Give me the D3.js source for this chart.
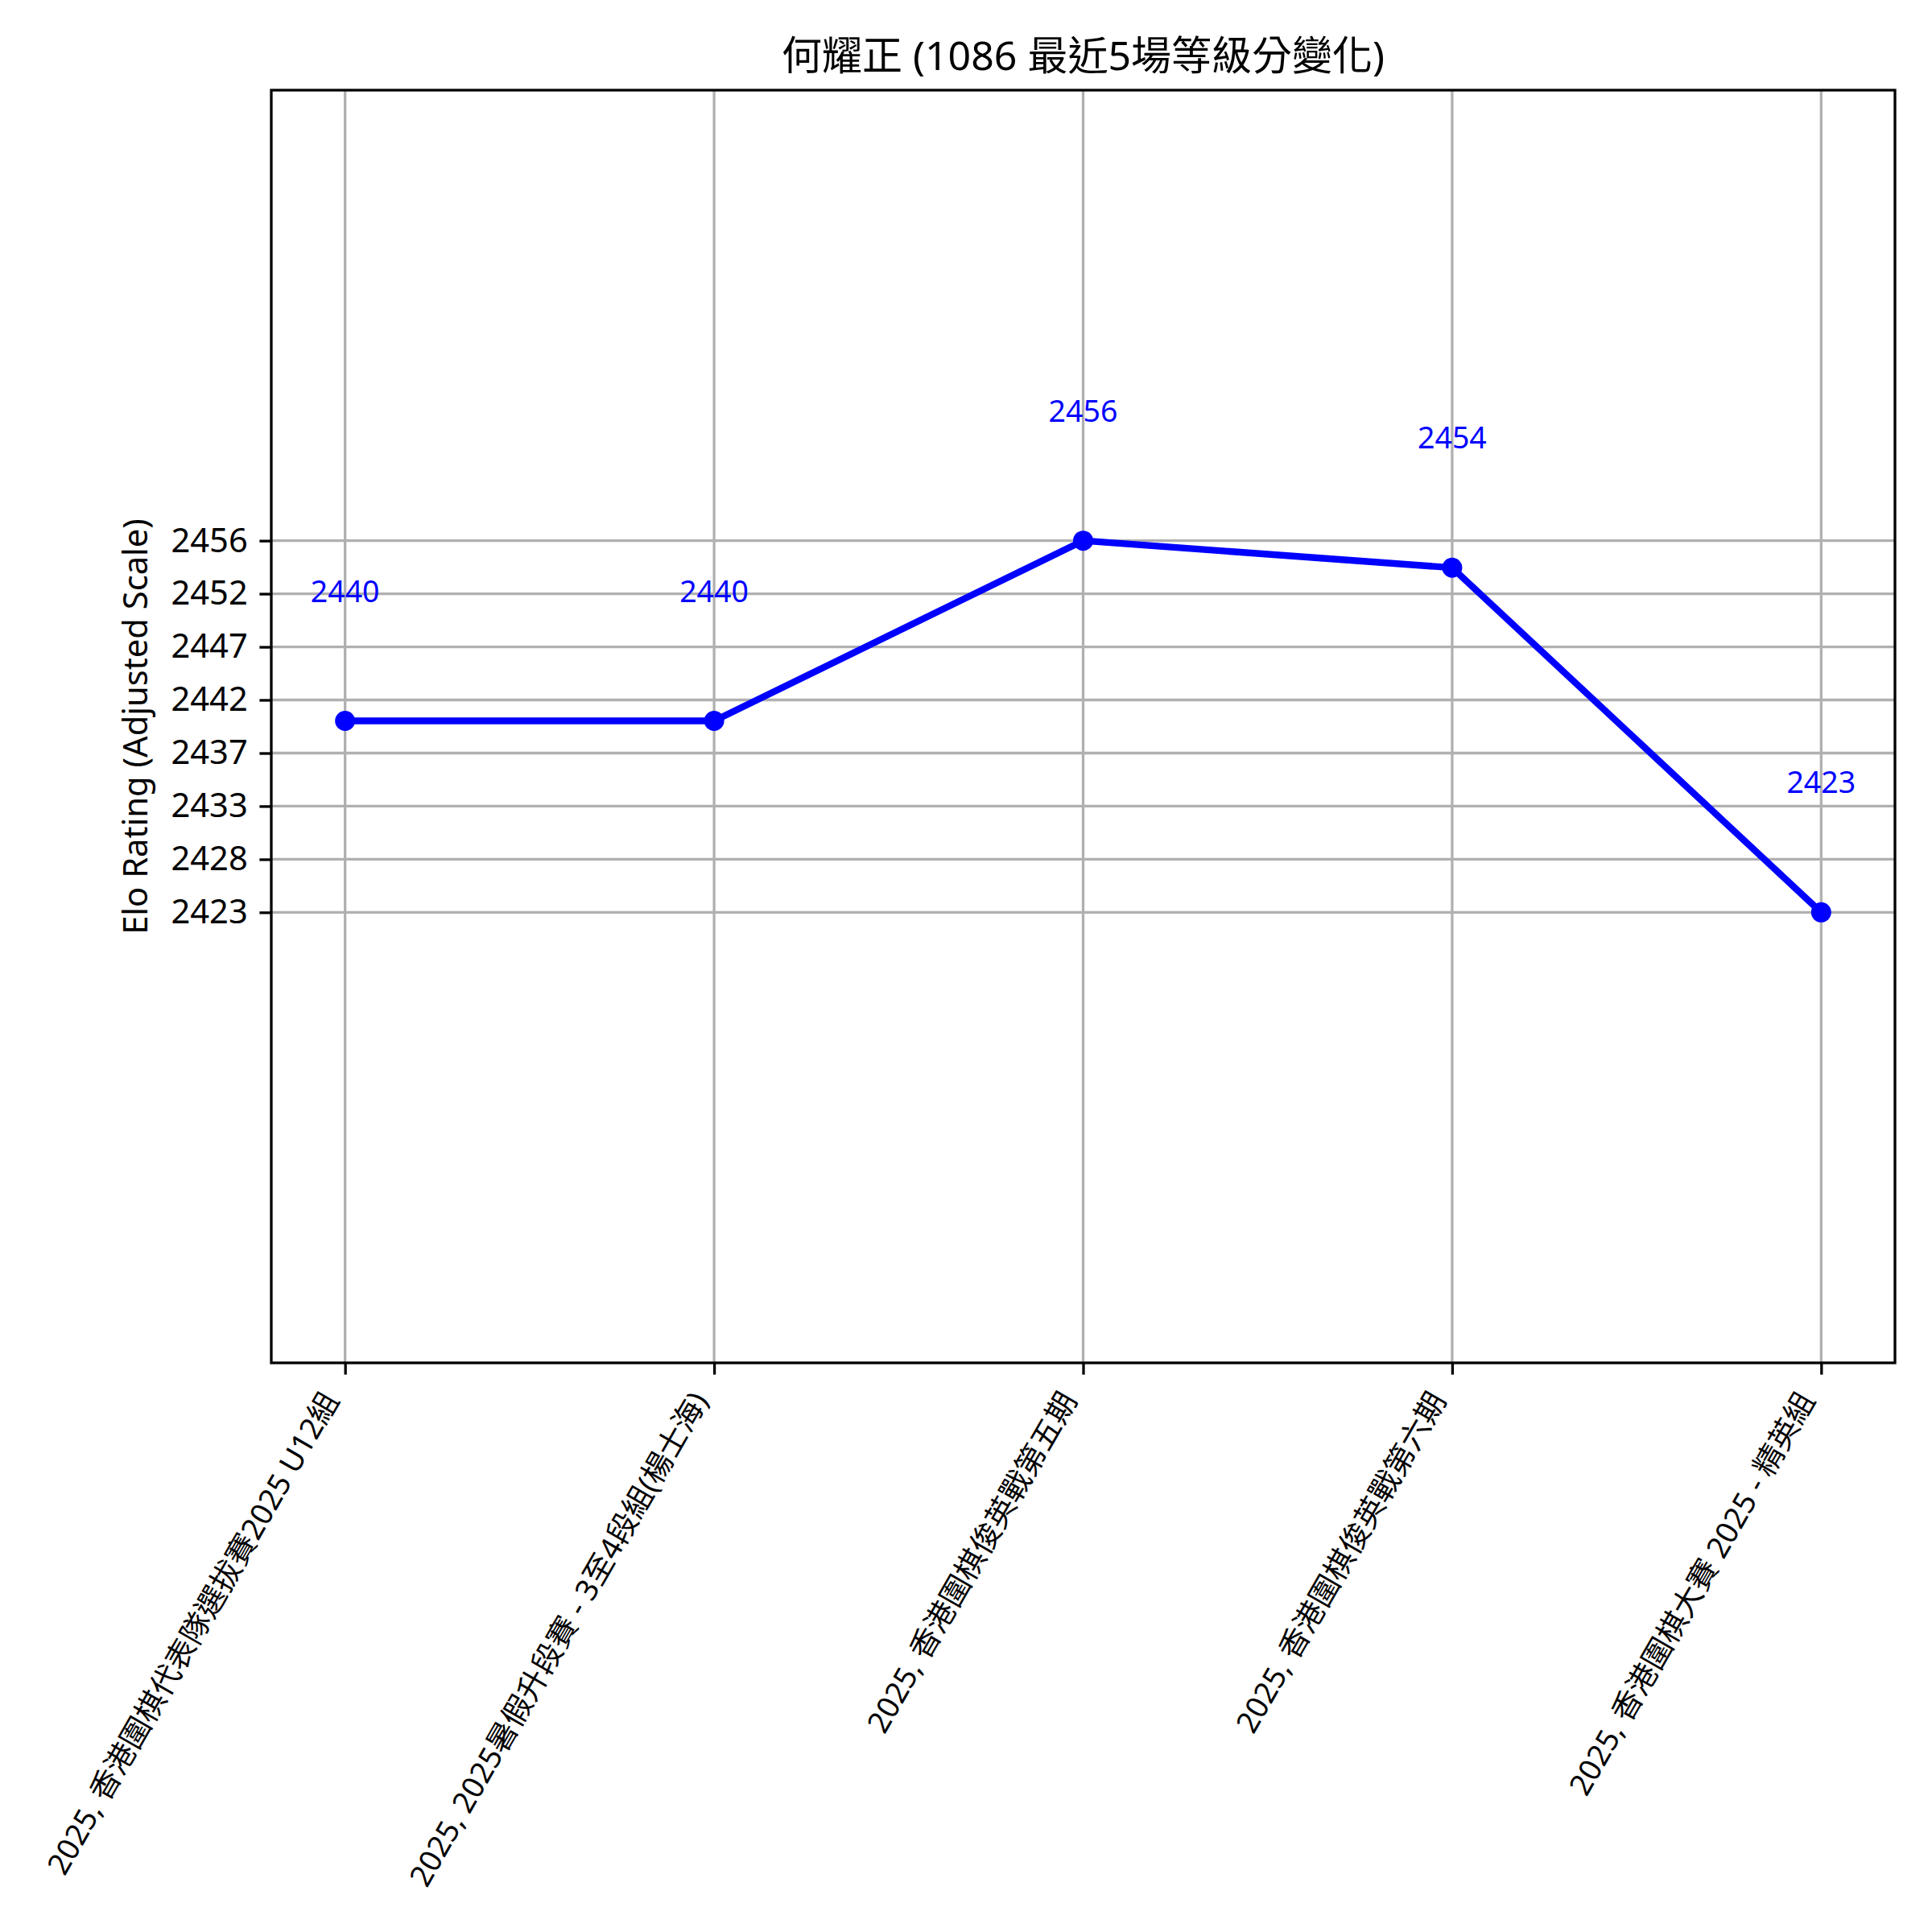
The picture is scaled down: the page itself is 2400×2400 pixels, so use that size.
<!DOCTYPE html>
<html>
<head>
<meta charset="utf-8">
<script src="https://cdn.jsdelivr.net/npm/d3@7"></script>
<style>
  body { margin: 0; background: #fff; }
  text { font-family: "Noto Sans", "Noto Sans CJK TC", sans-serif; }
</style>
</head>
<body>
<div id="container"></div>
<script>
var titleText = '何耀正 (1086 最近5場等級分變化)';
var yLabelText = 'Elo Rating (Adjusted Scale)';

var games = [
  '2025, 香港圍棋代表隊選拔賽2025 U12組',
  '2025, 2025暑假升段賽 - 3至4段組(楊士海)',
  '2025, 香港圍棋俊英戰第五期',
  '2025, 香港圍棋俊英戰第六期',
  '2025, 香港圍棋大賽 2025 - 精英組'
];
var ratings = [2440, 2440, 2456, 2453.6, 2423];

var yTicks = [2423, 2427.71, 2432.43, 2437.14, 2441.86, 2446.57, 2451.29, 2456];
var yTickLabels = ['2423', '2428', '2433', '2437', '2442', '2447', '2452', '2456'];
var yDomain = [2383, 2496];
var xDomain = [-0.2, 4.2];

var W = 2400, H = 2400;
var box = { left: 337, right: 2354, top: 112, bottom: 1693 };
var tickLen = 14.6, tickPad = 14.6;

var svg = d3.select('#container').append('svg')
  .attr('xmlns', 'http://www.w3.org/2000/svg')
  .attr('width', W)
  .attr('height', H);

svg.append('rect').attr('width', W).attr('height', H).attr('fill', '#fff');

var x = d3.scaleLinear().domain(xDomain).range([box.left, box.right]);
var y = d3.scaleLinear().domain(yDomain).range([box.bottom, box.top]);

var renderChart = function() {
  // grid first so the line sits on top
  svg.append('g')
    .attr('class', 'grid-x')
    .selectAll('line')
    .data(games)
    .enter()
    .append('line')
    .attr('x1', function(d, i) { return x(i); })
    .attr('x2', function(d, i) { return x(i); })
    .attr('y1', box.top)
    .attr('y2', box.bottom)
    .attr('stroke', '#b0b0b0')
    .attr('stroke-width', 3.3);

  svg.append('g')
    .attr('class', 'grid-y')
    .selectAll('line')
    .data(yTicks)
    .enter()
    .append('line')
    .attr('x1', box.left)
    .attr('x2', box.right)
    .attr('y1', function(d) { return y(d); })
    .attr('y2', function(d) { return y(d); })
    .attr('stroke', '#b0b0b0')
    .attr('stroke-width', 3.3);

  var line = d3.line()
    .x(function(d, i) { return x(i); })
    .y(function(d) { return y(d); });

  svg.append('path')
    .datum(ratings)
    .attr('d', line)
    .attr('fill', 'none')
    .attr('stroke', '#0000ff')
    .attr('stroke-width', 8.3)
    .attr('stroke-linejoin', 'round');

  svg.selectAll('.dot')
    .data(ratings)
    .enter()
    .append('circle')
    .attr('class', 'dot')
    .attr('cx', function(d, i) { return x(i); })
    .attr('cy', function(d) { return y(d); })
    .attr('r', 12.5)
    .attr('fill', '#0000ff');

  svg.selectAll('.value-label')
    .data(ratings)
    .enter()
    .append('text')
    .attr('class', 'value-label')
    .attr('x', function(d, i) { return x(i); })
    .attr('y', function(d) { return y(d) - 148; })
    .attr('text-anchor', 'middle')
    .attr('font-size', 37.5)
    .attr('fill', '#0000ff')
    .text(function(d) { return d3.format('.0f')(d); });

  // spines
  svg.append('rect')
    .attr('x', box.left)
    .attr('y', box.top)
    .attr('width', box.right - box.left)
    .attr('height', box.bottom - box.top)
    .attr('fill', 'none')
    .attr('stroke', '#000')
    .attr('stroke-width', 3.3);

  // y axis
  var yAxis = d3.axisLeft(y)
    .tickValues(yTicks)
    .tickSize(tickLen)
    .tickPadding(tickPad)
    .tickFormat(function(d, i) { return yTickLabels[i]; });

  var gy = svg.append('g')
    .attr('transform', 'translate(' + box.left + ',0)')
    .call(yAxis);
  gy.select('.domain').remove();
  gy.selectAll('.tick line').attr('stroke', '#000').attr('stroke-width', 3.3);
  gy.selectAll('.tick text')
    .attr('font-size', 41.7)
    .attr('font-family', '"Noto Sans", "Noto Sans CJK TC", sans-serif')
    .attr('fill', '#000');

  // x axis, labels rotated 60deg and right-aligned on the tick
  var xAxis = d3.axisBottom(x)
    .tickValues(d3.range(games.length))
    .tickSize(tickLen)
    .tickFormat(function(d) { return games[d]; });

  var gx = svg.append('g')
    .attr('transform', 'translate(0,' + box.bottom + ')')
    .call(xAxis);
  gx.select('.domain').remove();
  gx.selectAll('.tick line').attr('stroke', '#000').attr('stroke-width', 3.3);
  gx.selectAll('.tick text')
    .attr('font-size', 37.5)
    .attr('font-family', '"Noto Sans", "Noto Sans CJK TC", sans-serif')
    .attr('fill', '#000')
    .attr('text-anchor', 'end')
    .attr('dy', null)
    .attr('y', null)
    .attr('transform', 'translate(-7,' + (tickLen + tickPad + 17) + ') rotate(-60)');

  svg.append('text')
    .attr('x', (box.left + box.right) / 2)
    .attr('y', 87)
    .attr('text-anchor', 'middle')
    .attr('font-size', 50)
    .attr('fill', '#000')
    .text(titleText);

  svg.append('text')
    .attr('transform', 'translate(183,' + ((box.top + box.bottom) / 2) + ') rotate(-90)')
    .attr('text-anchor', 'middle')
    .attr('font-size', 41.7)
    .attr('fill', '#000')
    .text(yLabelText);
};

renderChart();
</script>
</body>
</html>
